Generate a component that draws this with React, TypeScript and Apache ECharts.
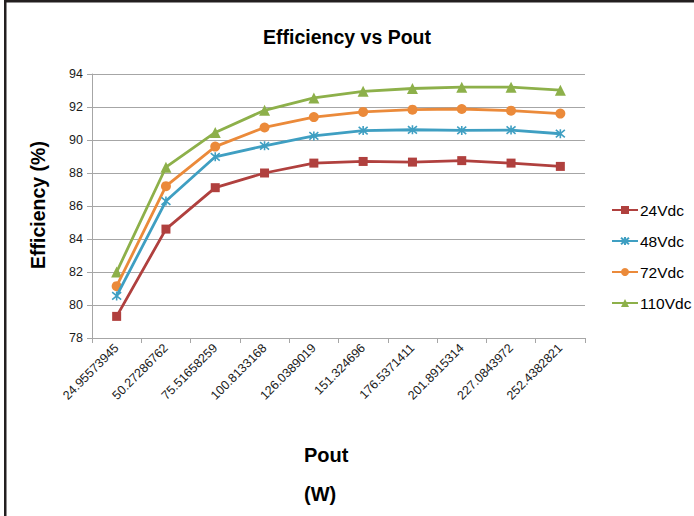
import React, { useEffect, useRef } from "react";
import * as echarts from "echarts";

const categories = [
  "24.95573945", "50.27286762", "75.51658259", "100.8133168", "126.0389019",
  "151.324696", "176.5371411", "201.8915314", "227.0843972", "252.4382821",
];
const v24 = [79.31, 84.6, 87.11, 88.0, 88.6, 88.7, 88.66, 88.75, 88.6, 88.4];
const v48 = [80.55, 86.3, 88.98, 89.65, 90.25, 90.57, 90.62, 90.58, 90.6, 90.38];
const v72 = [81.14, 87.2, 89.6, 90.76, 91.39, 91.7, 91.84, 91.88, 91.78, 91.6];
const v110 = [82.0, 88.35, 90.46, 91.8, 92.55, 92.95, 93.12, 93.2, 93.2, 93.02];
const seriesNames = ["24Vdc", "48Vdc", "72Vdc", "110Vdc"];
const colors = ["#B0403E", "#3F9FC2", "#EB8A3A", "#8DB04A"];

const starPath = "path://M0,0L10,10M10,0L0,10M5,-1L5,11";

export default function App() {
  const ref = useRef<HTMLDivElement>(null);
  useEffect(() => {
    if (!ref.current) return;
    const chart = echarts.init(ref.current, undefined, { renderer: "svg" });
    const tickFont = "'Liberation Sans Narrow', 'Liberation Sans', Arial, sans-serif";
    const boldFont = "'Liberation Sans', Arial, sans-serif";
    const mk = (i: number, data: number[], symbol: string, size: number, extra: any = {}) => ({
      name: seriesNames[i],
      type: "line",
      data,
      symbol,
      symbolSize: size,
      showAllSymbol: true,
      lineStyle: { color: colors[i], width: 2.8 },
      itemStyle: { color: colors[i], ...extra },
      z: 10 - i,
    });
    chart.setOption({
      animation: false,
      backgroundColor: "#ffffff",
      title: {
        text: "Efficiency vs Pout",
        left: "center",
        top: 22,
        textStyle: { fontFamily: boldFont, fontSize: 19.5, fontWeight: "bold", color: "#000" },
      },
      grid: { left: 92, right: 109, top: 74, bottom: 178 },
      legend: {
        orient: "vertical",
        left: 606,
        top: 197,
        itemGap: 15,
        itemWidth: 26,
        itemHeight: 10,
        textStyle: { fontFamily: tickFont, fontSize: 15.5, color: "#000", padding: [0, 0, 0, -3] },
        data: seriesNames,
      },
      xAxis: {
        type: "category",
        data: categories,
        boundaryGap: true,
        axisLine: { lineStyle: { color: "#A6A6A6", width: 1 } },
        axisTick: { show: true, length: 5, lineStyle: { color: "#A6A6A6" } },
        axisLabel: { rotate: 45, fontFamily: tickFont, fontSize: 12.5, color: "#1a1a1a", margin: 8 },
        splitLine: { show: false },
      },
      yAxis: {
        type: "value",
        min: 78,
        max: 94,
        interval: 2,
        axisLine: { show: true, lineStyle: { color: "#A6A6A6", width: 1 } },
        axisTick: { show: true, length: 5, lineStyle: { color: "#A6A6A6" } },
        axisLabel: { fontFamily: tickFont, fontSize: 12.5, color: "#1a1a1a", margin: 9 },
        splitLine: { show: true, lineStyle: { color: "#A6A6A6", width: 1 } },
      },
      series: [
        mk(0, v24, "rect", 9),
        mk(1, v48, starPath, 9, { borderColor: colors[1], borderWidth: 1.6, color: "transparent" }),
        mk(2, v72, "circle", 10),
        mk(3, v110, "triangle", 11),
      ],
      graphic: [
        { type: "rect", shape: { x: 4, y: 0, width: 690, height: 2.5 }, style: { fill: "#231F20" } },
        { type: "rect", shape: { x: 4, y: 0, width: 2.5, height: 516 }, style: { fill: "#231F20" } },
        {
          type: "text",
          x: 38,
          y: 205,
          rotation: Math.PI / 2,
          style: {
            text: "Efficiency (%)",
            fontFamily: boldFont,
            fontSize: 19.5,
            fontWeight: "bold",
            fill: "#000",
            align: "center",
            verticalAlign: "middle",
          },
        },
        {
          type: "text",
          x: 304,
          y: 455,
          style: {
            text: "Pout",
            fontFamily: boldFont,
            fontSize: 20,
            fontWeight: "bold",
            fill: "#000",
            align: "left",
            verticalAlign: "middle",
          },
        },
        {
          type: "text",
          x: 304,
          y: 494,
          style: {
            text: "(W)",
            fontFamily: boldFont,
            fontSize: 20,
            fontWeight: "bold",
            fill: "#000",
            align: "left",
            verticalAlign: "middle",
          },
        },
      ],
    });
    return () => chart.dispose();
  }, []);
  return (
    <div
      ref={ref}
      style={{ position: "fixed", left: 0, top: 0, width: 694, height: 516, background: "#fff" }}
    />
  );
}
